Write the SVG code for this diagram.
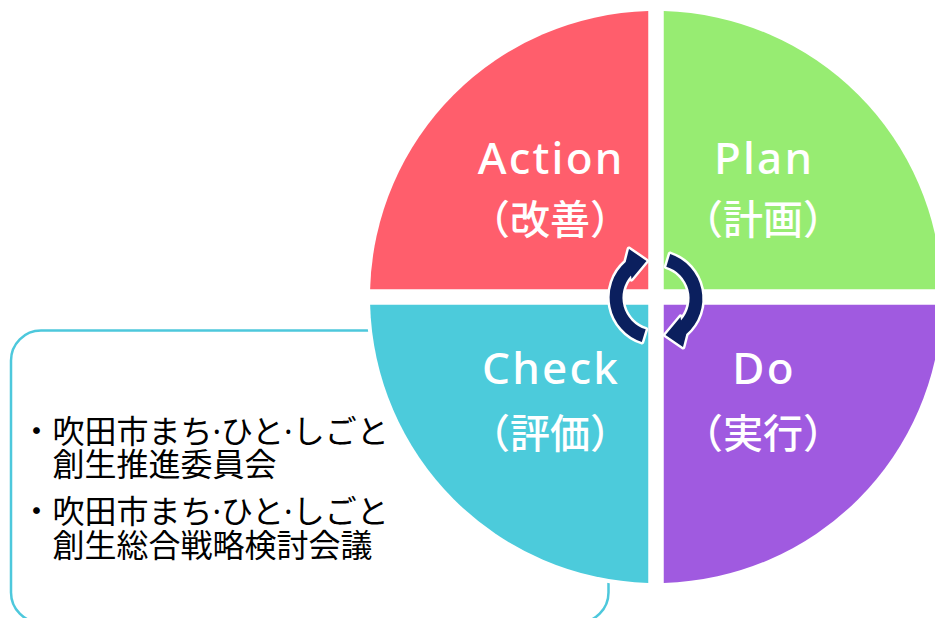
<svg xmlns="http://www.w3.org/2000/svg" xmlns:xlink="http://www.w3.org/1999/xlink" width="935" height="618" viewBox="0 0 935 618">
<defs>
<style>
.lbl{font-family:"Noto Sans","Noto Sans CJK JP",sans-serif;font-size:44px;font-weight:500;fill:#fff;text-anchor:middle;letter-spacing:2.2px}
.jp{font-family:"Noto Sans CJK JP",sans-serif;font-size:40px;font-weight:500;fill:#fff;text-anchor:middle}
.body{font-family:"Noto Sans","Noto Sans CJK JP",sans-serif;font-size:32px;fill:#000}
.arrow{fill:#0B1F5E;stroke:#fff;stroke-width:5;paint-order:stroke;stroke-linejoin:round}
</style>
<path id="cyc-arrow" d="M670.2 254 A47 47 0 0 1 686.3 334 L683 347 L665.5 335 L680.5 317 L681 320.4 A33 33 0 0 0 666.3 266.7 Z"/>
</defs>
<rect width="935" height="618" fill="#fff"/>
<g id="note">
<rect x="11" y="330.5" width="597.5" height="292" rx="30" ry="30" fill="none" stroke="#4DC8DC" stroke-width="2.5"/>
<text class="body" x="20.5" y="443">・吹田市まち·ひと·しごと</text>
<text class="body" x="52.5" y="476">創生推進委員会</text>
<text class="body" x="20.5" y="523">・吹田市まち·ひと·しごと</text>
<text class="body" x="52.5" y="557">創生総合戦略検討会議</text>
</g>
<circle cx="656" cy="297" r="290" fill="#fff"/>
<g id="action">
<path d="M648.25 289.25 V11.11 A286 286 0 0 0 370.11 289.25 Z" fill="#FF5E6C"/>
<text class="lbl" x="551.1" y="173.5">Action</text>
<text class="jp" x="550" y="234">（改善）</text>
</g>
<g id="plan">
<path d="M663.75 289.25 V11.11 A286 286 0 0 1 941.89 289.25 Z" fill="#97EC72"/>
<text class="lbl" x="764.1" y="173.5">Plan</text>
<text class="jp" x="763" y="234">（計画）</text>
</g>
<g id="check">
<path d="M648.25 304.75 V582.89 A286 286 0 0 1 370.11 304.75 Z" fill="#4CCBDB"/>
<text class="lbl" x="551.1" y="383.5">Check</text>
<text class="jp" x="550" y="448">（評価）</text>
</g>
<g id="do">
<path d="M663.75 304.75 V582.89 A286 286 0 0 0 941.89 304.75 Z" fill="#A05AE0"/>
<text class="lbl" x="764.1" y="383.5">Do</text>
<text class="jp" x="763" y="448">（実行）</text>
</g>
<g id="connectors">
<use xlink:href="#cyc-arrow" class="arrow"/>
<use xlink:href="#cyc-arrow" class="arrow" transform="rotate(180 656 298)"/>
</g>
</svg>
